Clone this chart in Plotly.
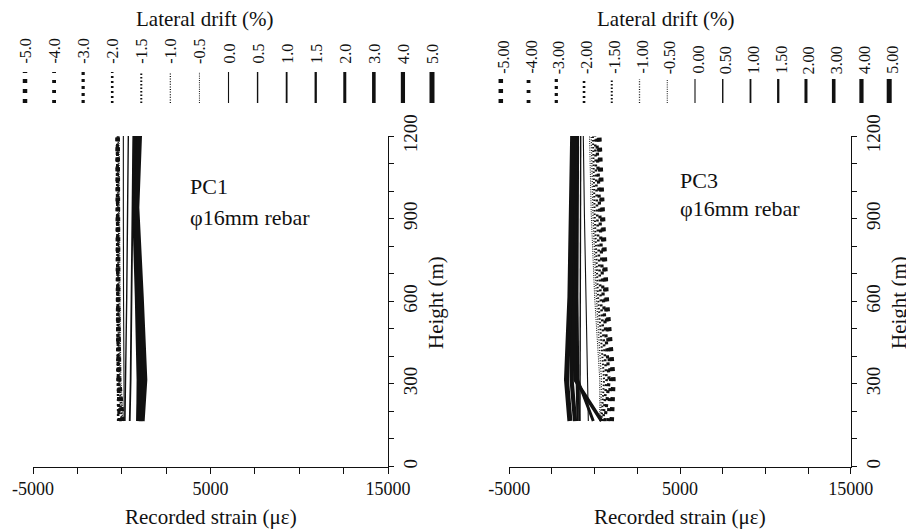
import plotly.graph_objects as go

# ---------------- data ----------------
drift_labels_pc1 = ["-5.0", "-4.0", "-3.0", "-2.0", "-1.5", "-1.0", "-0.5",
                    "0.0", "0.5", "1.0", "1.5", "2.0", "3.0", "4.0", "5.0"]
drift_labels_pc3 = ["-5.00", "-4.00", "-3.00", "-2.00", "-1.50", "-1.00", "-0.50",
                    "0.00", "0.50", "1.00", "1.50", "2.00", "3.00", "4.00", "5.00"]

height_pc1 = [165, 315, 615, 940, 1200]
height_pc3 = [165, 315, 615, 915, 1200]

# recorded strain (microstrain) per drift level, bottom -> top
strain_pc1 = [
    [50, -150, -200, -230, -230],    # -5.0
    [-50, -200, -230, -250, -240],   # -4.0
    [-150, -200, -230, -250, -250],  # -3.0
    [-200, -200, -230, -250, -250],  # -2.0
    [0, -150, -200, -220, -230],     # -1.5
    [50, -100, -150, -200, -200],    # -1.0
    [100, -50, -100, -150, -150],    # -0.5
    [140, 120, 100, 90, 90],         # 0.0
    [180, 220, 280, 330, 370],       # 0.5
    [450, 500, 550, 600, 650],       # 1.0
    [880, 900, 800, 650, 700],       # 1.5
    [900, 1000, 900, 700, 800],      # 2.0
    [950, 1100, 950, 750, 880],      # 3.0
    [1050, 1200, 1000, 800, 950],    # 4.0
    [1150, 1300, 1100, 850, 1000],   # 5.0
]

strain_pc3 = [
    [1000, 1100, 700, 480, 270],       # -5.00
    [800, 950, 620, 400, 220],         # -4.00
    [600, 850, 500, 300, 120],         # -3.00
    [500, 700, 350, 150, 20],          # -2.00
    [400, 550, 200, 0, -100],          # -1.50
    [350, 400, 100, -100, -200],       # -1.00
    [300, 300, 0, -200, -300],         # -0.50
    [-370, -420, -520, -600, -665],    # 0.00
    [-860, -850, -830, -820, -817],    # 0.50
    [-900, -950, -1000, -1000, -960],  # 1.00
    [-1000, -1050, -1100, -1050, -1000],  # 1.50
    [-80, -1000, -1150, -1100, -1050],    # 2.00
    [410, -1150, -1250, -1150, -1100],    # 3.00
    [-1150, -1350, -1350, -1250, -1200],  # 4.00
    [-1450, -1650, -1450, -1350, -1290],  # 5.00
]

x_tick_vals = [-5000, -2500, 0, 2500, 5000, 7500, 10000, 12500, 15000]
x_tick_text = ["-5000", "", "", "", "5000", "", "", "", "15000"]
y_tick_vals = list(range(0, 1201, 100))
y_tick_text = [str(v) if v % 300 == 0 else "" for v in y_tick_vals]

# ---------------- styles ----------------
line_widths = [4.5, 3.8, 3.2, 2.6, 2.0, 1.3, 1.0, 1.1, 1.4, 1.8, 2.3, 3.0, 3.6, 4.2, 5.0]
line_dashes = ["4px,6px", "3px,7px", "3px,4px", "2px,3px", "1.5px,2px", "1px,1.6px",
               "1px,1.2px", "solid", "solid", "solid", "solid", "solid", "solid",
               "solid", "solid"]
INK = "#111111"
FONT = "Liberation Serif"

# page body has an 8px margin: figure sits at (8, 8) in the window
OX, OY = 8, 8
W, HP = 906, 524


def px_x(p):
    return (p - OX) / W


def px_y(p):
    return (HP - (p - OY)) / HP


fig = go.Figure()

for i in range(len(drift_labels_pc1)):
    fig.add_trace(go.Scatter(
        x=strain_pc1[i], y=height_pc1, mode="lines", xaxis="x", yaxis="y",
        line=dict(color=INK, width=line_widths[i], dash=line_dashes[i]),
        showlegend=False, hoverinfo="skip"))
    fig.add_trace(go.Scatter(
        x=strain_pc3[i], y=height_pc3, mode="lines", xaxis="x2", yaxis="y2",
        line=dict(color=INK, width=line_widths[i], dash=line_dashes[i]),
        showlegend=False, hoverinfo="skip"))
    # legend samples
    fig.add_trace(go.Scatter(
        x=[i, i], y=[0, 1], mode="lines", xaxis="x3", yaxis="y3",
        line=dict(color=INK, width=line_widths[i], dash=line_dashes[i]),
        showlegend=False, hoverinfo="skip"))
    fig.add_trace(go.Scatter(
        x=[i, i], y=[0, 1], mode="lines", xaxis="x4", yaxis="y4",
        line=dict(color=INK, width=line_widths[i], dash=line_dashes[i]),
        showlegend=False, hoverinfo="skip"))

ydom = [px_y(466.5), px_y(136)]
common_x = dict(range=[-5000, 15000], tickmode="array", tickvals=x_tick_vals,
                ticktext=x_tick_text, ticks="outside", ticklen=6, tickwidth=1,
                tickcolor=INK, showline=True, linecolor=INK, linewidth=1,
                showgrid=False, zeroline=False, automargin=False,
                tickfont=dict(family=FONT, size=18, color=INK))
common_y = dict(range=[0, 1200], tickmode="array", tickvals=y_tick_vals,
                ticktext=y_tick_text, ticks="outside", ticklen=5, tickwidth=1,
                tickcolor=INK, showline=True, linecolor=INK, linewidth=1,
                showgrid=False, zeroline=False, side="right", tickangle=-90,
                automargin=False,
                tickfont=dict(family=FONT, size=19, color=INK), domain=ydom)

left_unit = 29.07
right_unit = 27.74
fig.update_layout(
    width=W, height=HP, autosize=False,
    margin=dict(l=0, r=0, t=0, b=0, pad=0, autoexpand=False),
    paper_bgcolor="white", plot_bgcolor="white",
    xaxis=dict(domain=[px_x(33), px_x(388)], anchor="y", **common_x),
    yaxis=dict(anchor="x", **common_y),
    xaxis2=dict(domain=[px_x(509.3), px_x(850.7)], anchor="y2", **common_x),
    yaxis2=dict(anchor="x2", **common_y),
    xaxis3=dict(domain=[px_x(25 - 0.5 * left_unit), px_x(432 + 0.5 * left_unit)],
                range=[-0.5, 14.5], visible=False, anchor="y3"),
    yaxis3=dict(domain=[px_y(103), px_y(72)], range=[0, 1], visible=False, anchor="x3"),
    xaxis4=dict(domain=[px_x(500.8 - 0.5 * right_unit), px_x(889.2 + 0.5 * right_unit)],
                range=[-0.5, 14.5], visible=False, anchor="y4"),
    yaxis4=dict(domain=[px_y(103), px_y(79)], range=[0, 1], visible=False, anchor="x4"),
)

ann = []
for i in range(len(drift_labels_pc1)):
    ann.append(dict(text=drift_labels_pc1[i], xref="x3", x=i, yref="paper", y=px_y(66),
                    xanchor="center", yanchor="bottom", textangle=-90, showarrow=False,
                    font=dict(family=FONT, size=16, color=INK)))
    ann.append(dict(text=drift_labels_pc3[i], xref="x4", x=i, xshift=2.5, yref="paper",
                    y=px_y(76), xanchor="center", yanchor="bottom", textangle=-90,
                    showarrow=False, font=dict(family=FONT, size=16, color=INK)))

title_font = dict(family=FONT, size=21, color=INK)
for cx in (205, 665.5):
    ann.append(dict(text="Lateral drift (%)", xref="paper", yref="paper",
                    x=px_x(cx), y=px_y(19.5), xanchor="center", yanchor="middle",
                    showarrow=False, font=title_font))
for cx in (210.5, 680):
    ann.append(dict(text="Recorded strain (\u03bc\u03b5)", xref="paper", yref="paper",
                    x=px_x(cx), y=px_y(517), xanchor="center", yanchor="middle",
                    showarrow=False, font=title_font))
for cx in (436, 899):
    ann.append(dict(text="Height (m)", xref="paper", yref="paper", textangle=-90,
                    x=px_x(cx), y=px_y(303), xanchor="center", yanchor="middle",
                    showarrow=False, font=title_font))

label_font = dict(family=FONT, size=22, color=INK)
ann.append(dict(text="PC1", xref="x", yref="y", x=3732, y=1015, xanchor="left",
                yanchor="middle", showarrow=False, font=label_font))
ann.append(dict(text="\u03c616mm rebar", xref="x", yref="y", x=3732, y=905,
                xanchor="left", yanchor="middle", showarrow=False, font=label_font))
ann.append(dict(text="PC3", xref="x2", yref="y2", x=4883, y=1040, xanchor="left",
                yanchor="middle", showarrow=False, font=label_font))
ann.append(dict(text="\u03c616mm rebar", xref="x2", yref="y2", x=4883, y=938,
                xanchor="left", yanchor="middle", showarrow=False, font=label_font))

fig.update_layout(annotations=ann)

fig.write_html("out.html")
